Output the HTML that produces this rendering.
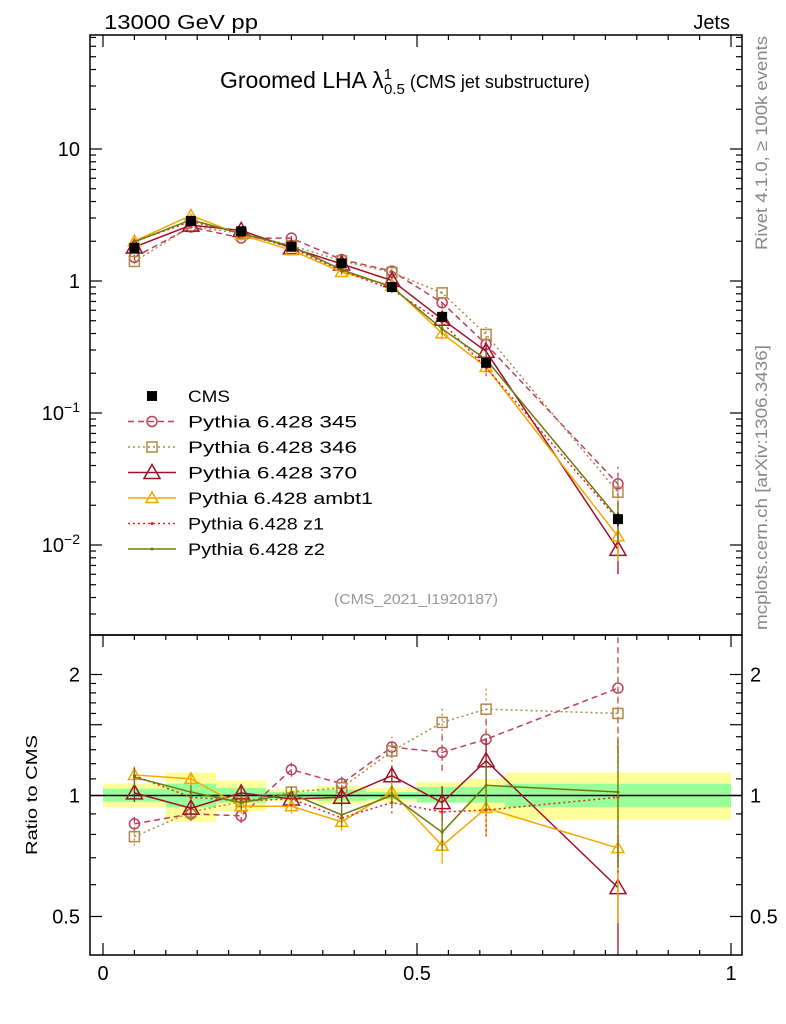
<!DOCTYPE html>
<html><head><meta charset="utf-8"><style>
html,body{margin:0;padding:0;background:#fff}
svg{display:block;font-family:"Liberation Sans",sans-serif}
</style></head><body>
<svg id="c" width="786" height="1024" viewBox="0 0 786 1024" xmlns="http://www.w3.org/2000/svg">
<text x="104" y="29" font-size="20" textLength="154" lengthAdjust="spacingAndGlyphs">13000 GeV pp</text>
<text x="730" y="29" font-size="20" text-anchor="end">Jets</text>
<text x="220" y="88" font-size="23">Groomed LHA λ<tspan font-size="15" dy="-9">1</tspan><tspan font-size="15" dx="-8" dy="15">0.5</tspan><tspan font-size="18" dy="-6"> (CMS jet substructure)</tspan></text>
<text transform="translate(767,250) rotate(-90)" font-size="17" fill="#888" textLength="214" lengthAdjust="spacingAndGlyphs">Rivet 4.1.0, ≥ 100k events</text>
<text transform="translate(767,630) rotate(-90)" font-size="17" fill="#888" textLength="285" lengthAdjust="spacingAndGlyphs">mcplots.cern.ch [arXiv:1306.3436]</text>
<text transform="translate(37,795) rotate(-90)" font-size="16" text-anchor="middle" textLength="120" lengthAdjust="spacingAndGlyphs">Ratio to CMS</text>
<text x="416" y="604" font-size="15" fill="#999" text-anchor="middle" textLength="164" lengthAdjust="spacingAndGlyphs">(CMS_2021_I1920187)</text>
<defs>
<clipPath id="cm"><rect x="90" y="35" width="652" height="600"/></clipPath>
<clipPath id="cr"><rect x="90" y="635" width="652" height="320"/></clipPath>
</defs>
<g id="bands" clip-path="url(#cr)"></g>
<g id="marks"></g>
<g id="axes"></g>
<g id="legend"></g>
</svg>
<script>
const binEdges=[0,0.1,0.18,0.26,0.34,0.42,0.5,0.58,0.64,1.0];
const xPts=[0.05,0.14,0.22,0.30,0.38,0.46,0.54,0.61,0.82];
const cmsVals=[1.78,2.85,2.38,1.82,1.36,0.9,0.535,0.24,0.0157];
const cmsErr=[0.04,0.03,0.03,0.02,0.03,0.03,0.05,0.06,0.12];
const bandYelHi=[1.07,1.14,1.09,1.035,1.055,1.045,1.08,1.10,1.14];
const bandYelLo=[0.935,0.86,0.915,0.97,0.95,0.965,0.96,0.905,0.87];
const bandGrnHi=[1.04,1.07,1.045,1.02,1.035,1.02,1.05,1.05,1.07];
const bandGrnLo=[0.965,0.935,0.96,0.98,0.97,0.98,0.96,0.96,0.935];
const r345=[0.85,0.9,0.89,1.16,1.07,1.32,1.28,1.38,1.85];
const r346=[0.79,0.91,0.965,1.02,1.045,1.29,1.52,1.64,1.6];
const r370=[1.015,0.93,1.015,0.98,0.99,1.12,0.96,1.22,0.59];
const rAmbt1=[1.125,1.10,0.94,0.94,0.86,1.02,0.75,0.93,0.74];
const rZ1=[1.12,0.99,0.97,0.98,0.88,0.96,0.91,0.92,0.99];
const rZ2=[1.11,1.02,0.96,1.01,0.895,1.0,0.81,1.06,1.02];
const relErr=[0.05,0.04,0.04,0.04,0.05,0.06,0.1,0.14,0.35];
const yMainTicks=[10,1,0.1,0.01];
const yMainLabels=["10","1","10","10"];
const yMainExp=["","","−1","−2"];
const yRatioTicks=[0.5,1,2];
const yRatioLabels=["0.5","1","2"];
const xTicks=[0,0.5,1];
const xLabels=["0","0.5","1"];

const NS="http://www.w3.org/2000/svg";
const X=v=>103+628*v;
const YM=v=>281-132*Math.log10(v);
const YR=r=>795.5-121*Math.log2(r);
function mk(tag,attrs,parent){const e=document.createElementNS(NS,tag);for(const k in attrs)e.setAttribute(k,attrs[k]);parent.appendChild(e);return e;}
const bands=document.getElementById('bands'),marks=document.getElementById('marks'),axes=document.getElementById('axes'),legend=document.getElementById('legend');

for(let i=0;i<xPts.length;i++){
  const x0=X(binEdges[i]),x1=X(binEdges[i+1]);
  let b=mk('rect',{x:x0,y:YR(bandYelHi[i]),width:x1-x0,height:YR(bandYelLo[i])-YR(bandYelHi[i]),fill:'#ffff99'},bands);
  
  
  let g=mk('rect',{x:x0,y:YR(bandGrnHi[i]),width:x1-x0,height:YR(bandGrnLo[i])-YR(bandGrnHi[i]),fill:'#99ff99'},bands);
  
  
}
let one=mk('line',{x1:90,x2:742,y1:YR(1),y2:YR(1),stroke:'#000','stroke-width':1.5},marks);



const series=[
 {name:'Pythia 6.428 345',key:'345',r:r345,color:'#c0405a',dash:'6,4',marker:'circle',size:5},
 {name:'Pythia 6.428 346',key:'346',r:r346,color:'#b08a48',dash:'2,3',marker:'square',size:5},
 {name:'Pythia 6.428 370',key:'370',r:r370,color:'#a0102a',dash:'',marker:'tri',size:8},
 {name:'Pythia 6.428 ambt1',key:'ambt1',r:rAmbt1,color:'#f5a800',dash:'',marker:'tri',size:6},
 {name:'Pythia 6.428 z1',key:'z1',r:rZ1,color:'#e8201a',dash:'2,3',marker:'dot',size:1.5},
 {name:'Pythia 6.428 z2',key:'z2',r:rZ2,color:'#6e7a10',dash:'',marker:'dot',size:1.5}
];
function marker(g,type,x,y,s,color){
  let e;
  if(type==='circle')e=mk('circle',{cx:x,cy:y,r:s,fill:'#fff','fill-opacity':0,stroke:color,'stroke-width':1.5},g);
  else if(type==='square')e=mk('rect',{x:x-s,y:y-s,width:2*s,height:2*s,fill:'none',stroke:color,'stroke-width':1.5},g);
  else if(type==='tri')e=mk('polygon',{points:`${x},${y-s} ${x-s},${y+s*0.75} ${x+s},${y+s*0.75}`,fill:'none',stroke:color,'stroke-width':1.5},g);
  else if(type==='fsq')e=mk('rect',{x:x-s,y:y-s,width:2*s,height:2*s,fill:color},g);
  else e=mk('circle',{cx:x,cy:y,r:s,fill:color},g);
  return e;
}
series.forEach(s=>{
  ['main','ratio'].forEach(panel=>{
    const g=mk('g',{'clip-path':panel==='main'?'url(#cm)':'url(#cr)'},marks);
    
    
    const Y=panel==='main'?(i=>YM(cmsVals[i]*s.r[i])):(i=>YR(s.r[i]));
    const Ylo=panel==='main'?(i=>YM(cmsVals[i]*s.r[i]*(1-relErr[i]))):(i=>YR(s.r[i]*(1-relErr[i])));
    const Yhi=panel==='main'?(i=>YM(cmsVals[i]*s.r[i]*(1+relErr[i]))):(i=>YR(s.r[i]*(1+relErr[i])));
    let d='';
    xPts.forEach((xv,i)=>{d+=(i?'L':'M')+X(xv)+','+Y(i);});
    const p=mk('path',{d:d,fill:'none',stroke:s.color,'stroke-width':1.5,'stroke-dasharray':s.dash},g);
    
    
    xPts.forEach((xv,i)=>{
      const eb=mk('line',{x1:X(xv),x2:X(xv),y1:Ylo(i),y2:Yhi(i),stroke:s.color,'stroke-width':1.3,'stroke-dasharray':s.dash},g);
      
      
      const m=marker(g,s.marker,X(xv),Y(i),s.size,s.color);
      
      
    });
  });
});
const cg=mk('g',{'clip-path':'url(#cm)'},marks);


xPts.forEach((xv,i)=>{
  const eb=mk('line',{x1:X(xv),x2:X(xv),y1:YM(cmsVals[i]*(1-cmsErr[i])),y2:YM(cmsVals[i]*(1+cmsErr[i])),stroke:'#000','stroke-width':1.3},cg);
  
  
  const m=marker(cg,'fsq',X(xv),YM(cmsVals[i]),5,'#000');
  
  
});

[[35,600,'main-frame'],[635,320,'ratio-frame']].forEach(f=>{
  const r=mk('rect',{x:90,y:f[0],width:652,height:f[1],fill:'none',stroke:'#000','stroke-width':1.5},axes);
  
  
});
function tick(x1,y1,x2,y2){const t=mk('line',{x1,y1,x2,y2,stroke:'#000','stroke-width':1.2},axes);}
for(let d=-3;d<=1;d++){for(let k=1;k<=9;k++){const v=k*Math.pow(10,d);const y=YM(v);if(y<35||y>635)continue;const L=k===1?12:6;tick(90,y,90+L,y);tick(742,y,742-L,y);}}
yMainTicks.forEach((v,i)=>{
  const t=mk('text',{x:80,y:YM(v)+7,'font-size':20,'text-anchor':'end'},axes);
  t.textContent=yMainLabels[i];
  if(yMainExp[i]){const s=mk('tspan',{'font-size':14,dy:-8},t);s.textContent=yMainExp[i];}
  
  
});
const rMinor=[0.4,0.6,0.7,0.8,0.9,1.1,1.2,1.3,1.4,1.6,1.7,1.8,1.9];
rMinor.forEach(v=>{const y=YR(v);if(y<635||y>955)return;tick(90,y,96,y);tick(742,y,736,y);});
[0.5,1,1.5,2].forEach(v=>{const y=YR(v);tick(90,y,102,y);tick(742,y,730,y);});
yRatioTicks.forEach((v,i)=>{
  const a=mk('text',{x:80,y:YR(v)+7,'font-size':20,'text-anchor':'end'},axes);a.textContent=yRatioLabels[i];
  
  
  const b=mk('text',{x:750,y:YR(v)+7,'font-size':20},axes);b.textContent=yRatioLabels[i];
  
  
});
for(let k=0;k<=20;k++){const v=k*0.05;const x=X(v);const L=k%10===0?12:5;tick(x,955,x,955-L);tick(x,635,x,635+L);tick(x,35,x,35+L);}
xTicks.forEach((v,i)=>{
  const t=mk('text',{x:X(v),y:980,'font-size':20,'text-anchor':'middle'},axes);t.textContent=xLabels[i];
  
  
});
const legItems=[{name:'CMS',color:'#000',marker:'fsq',size:5,dash:'',line:false}].concat(series.map(s=>Object.assign({line:true},s)));
const legWidths=[42,169,169,169,185,136,137];
legItems.forEach((s,i)=>{
  const y=396+i*25.5;
  const g=mk('g',{},legend);
  
  
  if(s.line)mk('line',{x1:128,x2:176,y1:y,y2:y,stroke:s.color,'stroke-width':1.5,'stroke-dasharray':s.dash},g);
  marker(g,s.marker,152,y,s.size,s.color);
  const t=mk('text',{x:188,y:y+6,'font-size':17,textLength:legWidths[i],lengthAdjust:'spacingAndGlyphs'},g);t.textContent=s.name;
});
</script>
</body></html>
